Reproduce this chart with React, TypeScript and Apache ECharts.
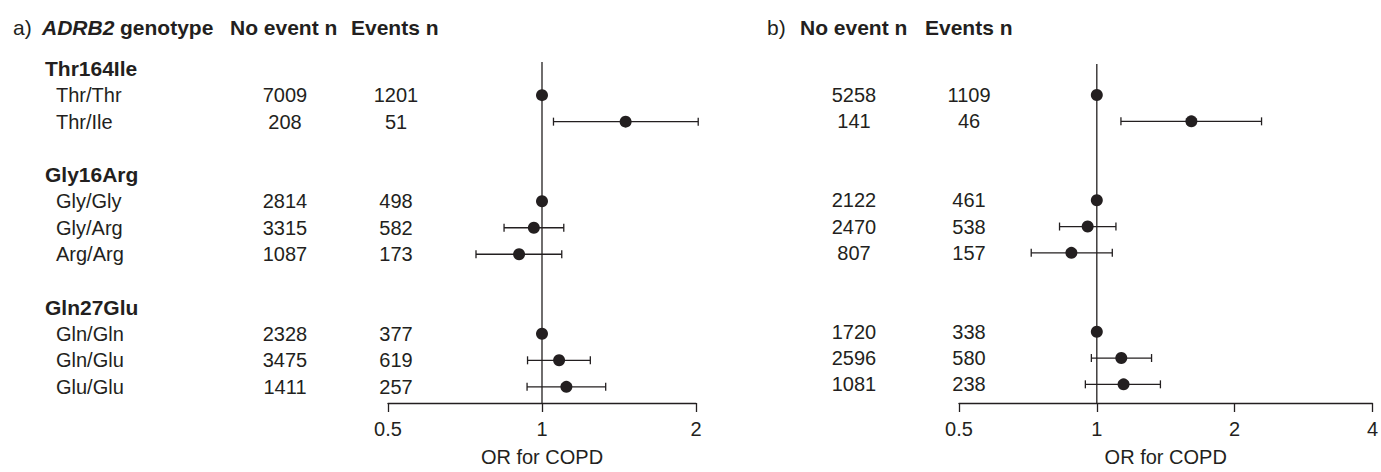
import React, { useEffect, useRef } from "react";
import * as echarts from "echarts";

// ---- data ----
const geneNames = ["Thr164Ile", "Gly16Arg", "Gln27Glu"];
const genotypes = ["Thr/Thr", "Thr/Ile", "Gly/Gly", "Gly/Arg", "Arg/Arg", "Gln/Gln", "Gln/Glu", "Glu/Glu"];
const geneOfGenotype = [0, 0, 1, 1, 1, 2, 2, 2];

// panel a)
const noEventA = [7009, 208, 2814, 3315, 1087, 2328, 3475, 1411];
const eventsA = [1201, 51, 498, 582, 173, 377, 619, 257];
const orA = [1, 1.457, 1, 0.964, 0.902, 1, 1.08, 1.116];
const lowA = [null, 1.053, null, 0.843, 0.743, null, 0.937, 0.935];
const highA = [null, 2.02, null, 1.103, 1.093, null, 1.243, 1.332];

// panel b)
const noEventB = [5258, 141, 2122, 2470, 807, 1720, 2596, 1081];
const eventsB = [1109, 46, 461, 538, 157, 338, 580, 238];
const orB = [1, 1.609, 1, 0.955, 0.88, 1, 1.131, 1.144];
const lowB = [null, 1.129, null, 0.829, 0.719, null, 0.973, 0.944];
const highB = [null, 2.29, null, 1.101, 1.081, null, 1.317, 1.377];

const xTicksA = [0.5, 1, 2];
const xTicksB = [0.5, 1, 2, 4];
const axisTitle = "OR for COPD";

// ---- layout / style ----
const FONT = "'Liberation Sans', Arial, Helvetica, sans-serif";
const FS = 20;
const HFS = 21;
const INK = "#231f20";

type Row = { row: number; kind: "gene" | "geno"; label: string; idx: number };
function buildRows(): Row[] {
  const rows: Row[] = [];
  let r = 0;
  geneNames.forEach((g, gi) => {
    rows.push({ row: r++, kind: "gene", label: g, idx: -1 });
    genotypes.forEach((gt, i) => {
      if (geneOfGenotype[i] === gi) rows.push({ row: r++, kind: "geno", label: gt, idx: i });
    });
    r++;
  });
  return rows;
}
const rows = buildRows();
const genoRow = genotypes.map((_, i) => rows.find((r) => r.idx === i)!.row);

function textSeries(gridIndex: number, cols: { x: number; align: string; get: (r: Row) => string | null }[]) {
  return {
    type: "custom",
    xAxisIndex: gridIndex,
    yAxisIndex: gridIndex,
    silent: true,
    clip: false,
    data: rows.map((r) => [1, r.row]),
    renderItem: (params: any, api: any) => {
      const r = rows[params.dataIndex];
      const y = api.coord([1, api.value(1)])[1];
      const children: any[] = [];
      cols.forEach((c) => {
        const t = c.get(r);
        if (t == null) return;
        children.push({
          type: "text",
          x: c.x,
          y,
          style: {
            text: t,
            fill: INK,
            font: r.kind === "gene" ? `bold ${HFS}px ${FONT}` : `${FS}px ${FONT}`,
            textAlign: c.align,
            textVerticalAlign: "middle",
          },
        });
      });
      return { type: "group", children };
    },
  };
}

function errorSeries(gridIndex: number, low: (number | null)[], high: (number | null)[]) {
  const data: any[] = [];
  low.forEach((l, i) => {
    if (l != null && high[i] != null) data.push([l, high[i], genoRow[i]]);
  });
  return {
    type: "custom",
    xAxisIndex: gridIndex,
    yAxisIndex: gridIndex,
    silent: true,
    clip: false,
    z: 2,
    encode: { x: [0, 1], y: 2 },
    data,
    renderItem: (_p: any, api: any) => {
      const a = api.coord([api.value(0), api.value(2)]);
      const b = api.coord([api.value(1), api.value(2)]);
      const st = { stroke: INK, lineWidth: 1.3 };
      const cap = 4;
      return {
        type: "group",
        children: [
          { type: "line", shape: { x1: a[0], y1: a[1], x2: b[0], y2: b[1] }, style: st },
          { type: "line", shape: { x1: a[0], y1: a[1] - cap, x2: a[0], y2: a[1] + cap }, style: st },
          { type: "line", shape: { x1: b[0], y1: b[1] - cap, x2: b[0], y2: b[1] + cap }, style: st },
        ],
      };
    },
  };
}

function xAxis(gridIndex: number, ticks: number[]) {
  return {
    type: "log",
    logBase: 2,
    gridIndex,
    position: "bottom",
    min: ticks[0],
    max: ticks[ticks.length - 1],
    name: axisTitle,
    nameLocation: "middle",
    nameGap: 44,
    nameTextStyle: { color: INK, fontSize: FS, fontFamily: FONT },
    axisLine: { show: true, onZero: false, lineStyle: { color: INK, width: 1.3 } },
    axisTick: { show: true, length: 9, lineStyle: { color: INK, width: 1.3 } },
    axisLabel: {
      color: INK,
      fontSize: FS,
      fontFamily: FONT,
      margin: 16,
      formatter: (v: number) => String(+v.toFixed(3)),
    },
    splitLine: { show: false },
  };
}

function yAxis(gridIndex: number, min: number, max: number) {
  return { type: "value", gridIndex, inverse: true, min, max, show: false, splitLine: { show: false } };
}

function refLine(gridIndex: number, min: number, max: number) {
  return {
    type: "line",
    xAxisIndex: gridIndex,
    yAxisIndex: gridIndex,
    data: [[1, min], [1, max]],
    symbol: "none",
    silent: true,
    lineStyle: { color: INK, width: 1.3 },
    z: 1,
  };
}

function pointSeries(gridIndex: number, ors: number[]) {
  return {
    type: "scatter",
    xAxisIndex: gridIndex,
    yAxisIndex: gridIndex,
    symbol: "circle",
    symbolSize: 12,
    itemStyle: { color: INK, opacity: 1 },
    silent: true,
    z: 3,
    data: ors.map((v, i) => [v, genoRow[i]]),
  };
}

const yMinA = -0.25, yMaxA = 12.61;
const yMinB = -0.18, yMaxB = 12.71;

export default function App() {
  const ref = useRef<HTMLDivElement>(null);
  useEffect(() => {
    document.body.style.margin = "0";
    const chart = echarts.init(ref.current!, null, { renderer: "svg" });
    const hdr = (text: string, x: number, font: string) => ({
      type: "text",
      x,
      y: 27,
      style: { text, fill: INK, font, textVerticalAlign: "middle" },
    });
    chart.setOption({
      animation: false,
      backgroundColor: "#ffffff",
      grid: [
        { left: 388, width: 308, top: 62, height: 346 },
        { left: 959, width: 415, top: 64, height: 347 },
      ],
      xAxis: [xAxis(0, xTicksA), xAxis(1, xTicksB)],
      yAxis: [yAxis(0, yMinA, yMaxA), yAxis(1, yMinB, yMaxB)],
      graphic: [
        hdr("a)", 13, `${HFS}px ${FONT}`),
        hdr("ADRB2", 42, `italic bold ${HFS}px ${FONT}`),
        hdr("genotype", 120, `bold ${HFS}px ${FONT}`),
        hdr("No event n", 230, `bold ${HFS}px ${FONT}`),
        hdr("Events n", 351, `bold ${HFS}px ${FONT}`),
        hdr("b)", 767, `${HFS}px ${FONT}`),
        hdr("No event n", 800, `bold ${HFS}px ${FONT}`),
        hdr("Events n", 925, `bold ${HFS}px ${FONT}`),
      ],
      series: [
        refLine(0, yMinA, yMaxA),
        refLine(1, yMinB, yMaxB),
        errorSeries(0, lowA, highA),
        errorSeries(1, lowB, highB),
        pointSeries(0, orA),
        pointSeries(1, orB),
        textSeries(0, [
          { x: 45, align: "left", get: (r) => (r.kind === "gene" ? r.label : null) },
          { x: 56, align: "left", get: (r) => (r.kind === "geno" ? r.label : null) },
          { x: 285, align: "center", get: (r) => (r.kind === "geno" ? String(noEventA[r.idx]) : null) },
          { x: 396, align: "center", get: (r) => (r.kind === "geno" ? String(eventsA[r.idx]) : null) },
        ]),
        textSeries(1, [
          { x: 854, align: "center", get: (r) => (r.kind === "geno" ? String(noEventB[r.idx]) : null) },
          { x: 969, align: "center", get: (r) => (r.kind === "geno" ? String(eventsB[r.idx]) : null) },
        ]),
      ],
    });
    return () => chart.dispose();
  }, []);
  return <div ref={ref} style={{ width: 1381, height: 472 }} />;
}
